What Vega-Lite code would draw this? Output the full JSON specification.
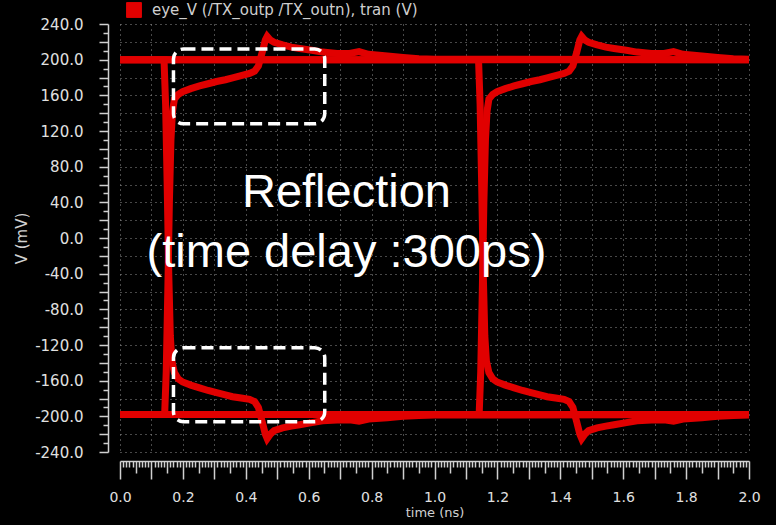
{
"$schema": "https://vega.github.io/schema/vega-lite/v6.json",
"autosize": {"type": "none"},
"padding": {"left": 120, "top": 24, "right": 27, "bottom": 73},
"width": 629,
"height": 428,
"background": "black",
"config": {
  "view": {"stroke": null},
  "axis": {
    "domainColor": "#d0d0d0", "domainWidth": 1.5,
    "tickColor": "#d0d0d0", "tickWidth": 1.5,
    "gridColor": "#909090", "gridDash": [1, 4], "gridWidth": 1,
    "labelColor": "#e0e0e0", "labelFont": "DejaVu Sans", "labelFontSize": 15,
    "titleColor": "#d0d0d0", "titleFont": "DejaVu Sans", "titleFontSize": 15, "titleFontWeight": "normal",
    "labelOverlap": false, "labelFlush": false
  }
},
"datasets": {
  "traces": [
    {"trace": "hh", "t": 0, "v": 200}, {"trace": "hh", "t": 2, "v": 200},
    {"trace": "ll", "t": 0, "v": -198}, {"trace": "ll", "t": 2, "v": -198},

    {"trace": "r1", "t": 0, "v": -198}, {"trace": "r1", "t": 0.142, "v": -198}, {"trace": "r1", "t": 0.147, "v": -150},
    {"trace": "r1", "t": 0.152, "v": -60}, {"trace": "r1", "t": 0.157, "v": 40}, {"trace": "r1", "t": 0.162, "v": 110},
    {"trace": "r1", "t": 0.167, "v": 142}, {"trace": "r1", "t": 0.173, "v": 156}, {"trace": "r1", "t": 0.185, "v": 161},
    {"trace": "r1", "t": 0.199, "v": 164}, {"trace": "r1", "t": 0.225, "v": 167.5}, {"trace": "r1", "t": 0.253, "v": 170.5},
    {"trace": "r1", "t": 0.28, "v": 173}, {"trace": "r1", "t": 0.307, "v": 175.5}, {"trace": "r1", "t": 0.335, "v": 177.5},
    {"trace": "r1", "t": 0.358, "v": 179.5}, {"trace": "r1", "t": 0.385, "v": 182}, {"trace": "r1", "t": 0.412, "v": 184.5},
    {"trace": "r1", "t": 0.428, "v": 187}, {"trace": "r1", "t": 0.44, "v": 193}, {"trace": "r1", "t": 0.452, "v": 208},
    {"trace": "r1", "t": 0.462, "v": 222}, {"trace": "r1", "t": 0.468, "v": 226}, {"trace": "r1", "t": 0.478, "v": 222},
    {"trace": "r1", "t": 0.49, "v": 219.5}, {"trace": "r1", "t": 0.517, "v": 216.5}, {"trace": "r1", "t": 0.545, "v": 214},
    {"trace": "r1", "t": 0.571, "v": 212.5}, {"trace": "r1", "t": 0.61, "v": 210.5}, {"trace": "r1", "t": 0.644, "v": 208.5},
    {"trace": "r1", "t": 0.69, "v": 207}, {"trace": "r1", "t": 0.73, "v": 207}, {"trace": "r1", "t": 0.76, "v": 209},
    {"trace": "r1", "t": 0.79, "v": 206}, {"trace": "r1", "t": 0.85, "v": 204}, {"trace": "r1", "t": 0.9, "v": 202.5},
    {"trace": "r1", "t": 0.95, "v": 201}, {"trace": "r1", "t": 1.0, "v": 200.5}, {"trace": "r1", "t": 2.0, "v": 200},

    {"trace": "f1", "t": 0, "v": 200}, {"trace": "f1", "t": 0.14, "v": 200}, {"trace": "f1", "t": 0.145, "v": 150},
    {"trace": "f1", "t": 0.15, "v": 60}, {"trace": "f1", "t": 0.155, "v": -40}, {"trace": "f1", "t": 0.16, "v": -110},
    {"trace": "f1", "t": 0.165, "v": -138}, {"trace": "f1", "t": 0.173, "v": -151}, {"trace": "f1", "t": 0.185, "v": -158},
    {"trace": "f1", "t": 0.199, "v": -161.5}, {"trace": "f1", "t": 0.225, "v": -165}, {"trace": "f1", "t": 0.253, "v": -168},
    {"trace": "f1", "t": 0.28, "v": -171}, {"trace": "f1", "t": 0.307, "v": -173.5}, {"trace": "f1", "t": 0.335, "v": -176},
    {"trace": "f1", "t": 0.358, "v": -178}, {"trace": "f1", "t": 0.385, "v": -179.5}, {"trace": "f1", "t": 0.412, "v": -181},
    {"trace": "f1", "t": 0.428, "v": -183.5}, {"trace": "f1", "t": 0.44, "v": -190}, {"trace": "f1", "t": 0.452, "v": -206},
    {"trace": "f1", "t": 0.462, "v": -220}, {"trace": "f1", "t": 0.468, "v": -225}, {"trace": "f1", "t": 0.478, "v": -220},
    {"trace": "f1", "t": 0.49, "v": -216}, {"trace": "f1", "t": 0.517, "v": -213}, {"trace": "f1", "t": 0.545, "v": -211},
    {"trace": "f1", "t": 0.571, "v": -209.5}, {"trace": "f1", "t": 0.61, "v": -207}, {"trace": "f1", "t": 0.644, "v": -205},
    {"trace": "f1", "t": 0.69, "v": -204}, {"trace": "f1", "t": 0.73, "v": -204}, {"trace": "f1", "t": 0.76, "v": -205.5},
    {"trace": "f1", "t": 0.79, "v": -203}, {"trace": "f1", "t": 0.85, "v": -201.5}, {"trace": "f1", "t": 0.9, "v": -200},
    {"trace": "f1", "t": 0.95, "v": -199}, {"trace": "f1", "t": 1.0, "v": -198.5}, {"trace": "f1", "t": 2.0, "v": -198},

    {"trace": "r2", "t": 0, "v": -198}, {"trace": "r2", "t": 1.142, "v": -198}, {"trace": "r2", "t": 1.147, "v": -150},
    {"trace": "r2", "t": 1.152, "v": -60}, {"trace": "r2", "t": 1.157, "v": 40}, {"trace": "r2", "t": 1.162, "v": 110},
    {"trace": "r2", "t": 1.167, "v": 142}, {"trace": "r2", "t": 1.173, "v": 156}, {"trace": "r2", "t": 1.185, "v": 161},
    {"trace": "r2", "t": 1.199, "v": 164}, {"trace": "r2", "t": 1.225, "v": 167.5}, {"trace": "r2", "t": 1.253, "v": 170.5},
    {"trace": "r2", "t": 1.28, "v": 173}, {"trace": "r2", "t": 1.307, "v": 175.5}, {"trace": "r2", "t": 1.335, "v": 177.5},
    {"trace": "r2", "t": 1.358, "v": 179.5}, {"trace": "r2", "t": 1.385, "v": 182}, {"trace": "r2", "t": 1.412, "v": 184.5},
    {"trace": "r2", "t": 1.428, "v": 187}, {"trace": "r2", "t": 1.44, "v": 193}, {"trace": "r2", "t": 1.452, "v": 208},
    {"trace": "r2", "t": 1.462, "v": 222}, {"trace": "r2", "t": 1.468, "v": 226}, {"trace": "r2", "t": 1.478, "v": 222},
    {"trace": "r2", "t": 1.49, "v": 219.5}, {"trace": "r2", "t": 1.517, "v": 216.5}, {"trace": "r2", "t": 1.545, "v": 214},
    {"trace": "r2", "t": 1.571, "v": 212.5}, {"trace": "r2", "t": 1.61, "v": 210.5}, {"trace": "r2", "t": 1.644, "v": 208.5},
    {"trace": "r2", "t": 1.69, "v": 207}, {"trace": "r2", "t": 1.73, "v": 207}, {"trace": "r2", "t": 1.76, "v": 209},
    {"trace": "r2", "t": 1.79, "v": 206}, {"trace": "r2", "t": 1.85, "v": 204}, {"trace": "r2", "t": 1.9, "v": 202.5},
    {"trace": "r2", "t": 1.95, "v": 201}, {"trace": "r2", "t": 2.0, "v": 200.5},

    {"trace": "f2", "t": 0, "v": 200}, {"trace": "f2", "t": 1.14, "v": 200}, {"trace": "f2", "t": 1.145, "v": 150},
    {"trace": "f2", "t": 1.15, "v": 60}, {"trace": "f2", "t": 1.155, "v": -40}, {"trace": "f2", "t": 1.16, "v": -110},
    {"trace": "f2", "t": 1.165, "v": -138}, {"trace": "f2", "t": 1.173, "v": -151}, {"trace": "f2", "t": 1.185, "v": -158},
    {"trace": "f2", "t": 1.199, "v": -161.5}, {"trace": "f2", "t": 1.225, "v": -165}, {"trace": "f2", "t": 1.253, "v": -168},
    {"trace": "f2", "t": 1.28, "v": -171}, {"trace": "f2", "t": 1.307, "v": -173.5}, {"trace": "f2", "t": 1.335, "v": -176},
    {"trace": "f2", "t": 1.358, "v": -178}, {"trace": "f2", "t": 1.385, "v": -179.5}, {"trace": "f2", "t": 1.412, "v": -181},
    {"trace": "f2", "t": 1.428, "v": -183.5}, {"trace": "f2", "t": 1.44, "v": -190}, {"trace": "f2", "t": 1.452, "v": -206},
    {"trace": "f2", "t": 1.462, "v": -220}, {"trace": "f2", "t": 1.468, "v": -225}, {"trace": "f2", "t": 1.478, "v": -220},
    {"trace": "f2", "t": 1.49, "v": -216}, {"trace": "f2", "t": 1.517, "v": -213}, {"trace": "f2", "t": 1.545, "v": -211},
    {"trace": "f2", "t": 1.571, "v": -209.5}, {"trace": "f2", "t": 1.61, "v": -207}, {"trace": "f2", "t": 1.644, "v": -205},
    {"trace": "f2", "t": 1.69, "v": -204}, {"trace": "f2", "t": 1.73, "v": -204}, {"trace": "f2", "t": 1.76, "v": -205.5},
    {"trace": "f2", "t": 1.79, "v": -203}, {"trace": "f2", "t": 1.85, "v": -201.5}, {"trace": "f2", "t": 1.9, "v": -200},
    {"trace": "f2", "t": 1.95, "v": -199}, {"trace": "f2", "t": 2.0, "v": -198.5}
  ],
  "boxes": [
    {"t": 0.17, "t2": 0.651, "v": 212, "v2": 128},
    {"t": 0.17, "t2": 0.651, "v": -123, "v2": -206}
  ],
  "notes": [
    {"t": 0.72, "v": 35, "label": "Reflection"},
    {"t": 0.72, "v": -32, "label": "(time delay :300ps)"}
  ]
},
"encoding": {
  "x": {
    "field": "t", "type": "quantitative",
    "scale": {"domain": [0, 2], "nice": false, "zero": false},
    "axis": {
      "orient": "bottom", "offset": 9, "tickCount": 200, "grid": true,
      "gridOpacity": {"condition": {"test": "round(datum.value * 100) % 10 === 0", "value": 1}, "value": 0},
      "tickSize": {"expr": "round(datum.value * 100) % 10 === 0 ? 18 : (round(datum.value * 100) % 5 === 0 ? 12 : 6)"},
      "labelExpr": "round(datum.value * 100) % 20 === 0 ? format(datum.value, '.1f') : ''",
      "labelPadding": 11, "labelFontSize": 14,
      "title": "time (ns)", "titlePadding": 2, "titleFontSize": 13
    }
  },
  "y": {
    "field": "v", "type": "quantitative",
    "scale": {"domain": [-240, 240], "nice": false, "zero": false},
    "axis": {
      "orient": "left", "offset": 12, "tickCount": 48, "grid": true,
      "gridOpacity": {"condition": {"test": "datum.value % 20 === 0", "value": 1}, "value": 0},
      "tickSize": {"condition": {"test": "datum.value % 20 === 0", "value": 9}, "value": 5},
      "labelExpr": "datum.value % 40 === 0 ? (datum.value < 0 ? '-' : '') + format(abs(datum.value), '.1f') : ''",
      "labelPadding": 16,
      "title": "V (mV)", "titlePadding": 5
    }
  }
},
"layer": [
  {
    "data": {"name": "traces"},
    "mark": {"type": "line", "strokeWidth": 7, "strokeJoin": "miter"},
    "encoding": {
      "detail": {"field": "trace", "type": "nominal"},
      "color": {
        "datum": "eye_V (/TX_outp /TX_outn), tran (V)",
        "type": "nominal",
        "scale": {"range": ["#e10000"]},
        "legend": {
          "orient": "none", "legendX": 6, "legendY": -22, "title": null, "padding": 0,
          "symbolType": "square", "symbolSize": 220, "symbolFillColor": "#e10000",
          "symbolStrokeColor": "#e10000", "symbolStrokeWidth": 1,
          "labelColor": "#cfcfcf", "labelFont": "DejaVu Sans", "labelFontSize": 15,
          "labelLimit": 1000, "labelOffset": 10
        }
      }
    }
  },
  {
    "data": {"name": "boxes"},
    "mark": {"type": "rect", "filled": false, "stroke": "white", "strokeWidth": 3.5, "strokeDash": [12, 6], "cornerRadius": 10},
    "encoding": {
      "x2": {"field": "t2"},
      "y2": {"field": "v2"}
    }
  },
  {
    "data": {"name": "notes"},
    "mark": {"type": "text", "font": "Liberation Sans", "fontSize": 47, "color": "white", "align": "center", "baseline": "alphabetic"},
    "encoding": {
      "text": {"field": "label", "type": "nominal"}
    }
  }
]
}
